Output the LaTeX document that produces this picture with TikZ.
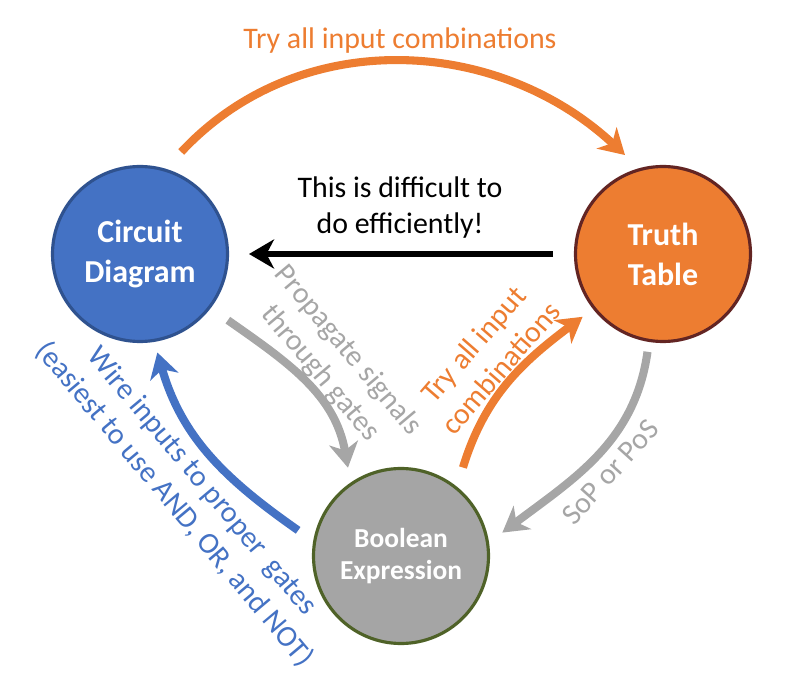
\documentclass[tikz,border=0pt]{standalone}
\usepackage{fontspec}
\setmainfont{Carlito}
\usetikzlibrary{arrows.meta}
\definecolor{cblue}{HTML}{4472C4}
\definecolor{cblueline}{HTML}{2F528F}
\definecolor{corange}{HTML}{ED7D31}
\definecolor{cbrown}{HTML}{632523}
\definecolor{cgray}{HTML}{A5A5A5}
\definecolor{colive}{HTML}{4F6228}
\definecolor{cgrayline}{HTML}{A6A6A6}

\begin{document}
\begin{tikzpicture}[
	blob/.style={circle, minimum size=3.5cm, line width=1.8pt, text=white, align=center, font=\bfseries\fontsize{18.2}{22.8}\selectfont},
	flow/.style={line width=4.6pt, -{Stealth[length=0.5cm, width=0.58cm, inset=0.15cm]}},
	lbl/.style={align=center, font=\fontsize{17}{20.5}\selectfont}
]
	\useasboundingbox (0, 0) rectangle (15.98, 13.44);
	% the three circles
	\node[blob, fill=cblue, draw=cblueline] (cd) at (2.80, 8.36) {Circuit\\Diagram};
	\node[blob, fill=corange, draw=cbrown] (tt) at (13.26, 8.36) {Truth\\Table};
	\node[blob, fill=cgray, draw=colive, font=\bfseries\fontsize{15.6}{18.6}\selectfont] (be) at (8.02, 2.32) {Boolean\\Expression};

	\draw[flow, corange] ([shift={(68:2.2)}]cd.center) to[out=47, in=137] ([shift={(111:2.12)}]tt.center);
	\draw[flow, black, line width=3.6pt] ([shift={(180:2.2)}]tt.center) -- ([shift={(0:2.18)}]cd.center);
	\draw[flow, cgrayline] ([shift={(-37:2.2)}]cd.center) to[out=-35, in=100] ([shift={(121:2.06)}]be.center);
	\draw[flow, cblue] ([shift={(166:2.12)}]be.center) to[out=145, in=-74] ([shift={(-80:2.0)}]cd.center);
	\draw[flow, corange] ([shift={(55:2.16)}]be.center) to[out=73, in=217] ([shift={(218:2.04)}]tt.center);
	\draw[flow, cgrayline] ([shift={(261:1.98)}]tt.center) to[out=262, in=37] ([shift={(13:2.08)}]be.center);

	\node[lbl, corange, anchor=base] (toplbl) at (8.0, 12.46) {Try all input combinations};
	\node[lbl] (hardlbl) at (8.0, 9.28) {This is difficult to\\do efficiently!};
	\node[lbl, cgrayline, rotate=-50] (proplbl) at (6.68, 6.2) {Propagate signals\\through gates};
	\node[lbl, cblue, rotate=-50] (wirelbl) at (3.76, 3.58) {Wire inputs to proper\ \ gates\\(easiest to use AND, OR, and NOT)};
	\node[lbl, corange, rotate=49] (trylbl) at (9.74, 6.32) {Try all input\\combinations};
	\node[lbl, cgrayline, rotate=48] (soplbl) at (12.2, 4.0) {SoP or PoS};
\end{tikzpicture}
\end{document}
